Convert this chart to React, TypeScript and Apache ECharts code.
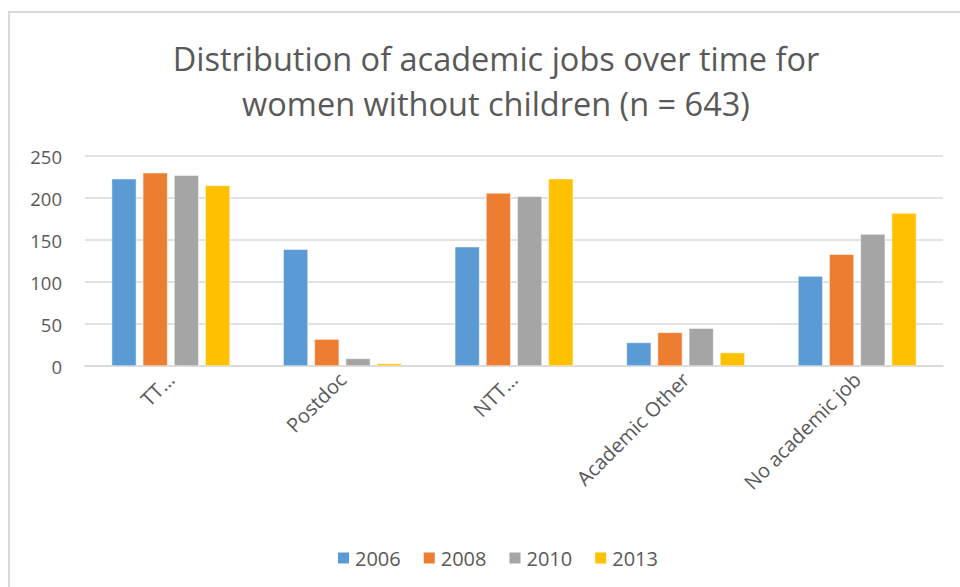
import React, { useEffect, useRef } from "react";
import * as echarts from "echarts";

const categories = ["TT…", "Postdoc", "NTT…", "Academic Other", "No academic job"];
const years = ["2006", "2008", "2010", "2013"];
const values2006 = [223, 139, 142, 28, 107];
const values2008 = [230, 32, 206, 40, 133];
const values2010 = [227, 9, 202, 45, 157];
const values2013 = [215, 3, 223, 16, 182];
const colors = ["#5b9bd5", "#ed7d31", "#a5a5a5", "#ffc000"];
const yTicks = { min: 0, max: 250, interval: 50 };

const FONT = "'Open Sans', sans-serif";

export default function App() {
  const ref = useRef<HTMLDivElement>(null);
  useEffect(() => {
    if (!ref.current) return;
    const chart = echarts.init(ref.current, undefined, { renderer: "svg" });
    const seriesData = [values2006, values2008, values2010, values2013];
    chart.setOption({
      animation: false,
      backgroundColor: "#ffffff",
      title: {
        text: "Distribution of academic jobs over time for\nwomen without children (n = 643)",
        left: 491,
        textAlign: "center",
        top: 31,
        textStyle: {
          fontFamily: FONT,
          fontWeight: "normal",
          fontSize: 32.5,
          color: "#595959",
          lineHeight: 45,
        },
      },
      graphic: [
        {
          type: "rect",
          shape: { x: 9, y: 12, width: 1000, height: 1000 },
          style: { fill: "none", stroke: "#d9d9d9", lineWidth: 2 },
          silent: true,
        },
      ],
      legend: {
        data: years,
        left: 331,
        top: 543,
        itemWidth: 13,
        itemHeight: 13,
        itemGap: 21,
        icon: "rect",
        textStyle: { fontFamily: FONT, fontSize: 20, color: "#595959" },
      },
      grid: { left: 85, right: 17, top: 156, bottom: 221, containLabel: false },
      xAxis: {
        type: "category",
        data: categories,
        axisLine: { show: true, lineStyle: { color: "#d9d9d9", width: 1.5 } },
        axisTick: { show: false },
        axisLabel: {
          rotate: 45,
          interval: 0,
          margin: 10,
          fontFamily: FONT,
          fontSize: 20,
          color: "#595959",
        },
      },
      yAxis: {
        type: "value",
        min: yTicks.min,
        max: yTicks.max,
        interval: yTicks.interval,
        axisLine: { show: false },
        axisTick: { show: false },
        splitLine: { lineStyle: { color: "#d9d9d9", width: 1.5 } },
        axisLabel: { fontFamily: FONT, fontSize: 18.5, color: "#595959", margin: 23 },
      },
      series: years.map((y, i) => ({
        name: y,
        type: "bar",
        data: seriesData[i],
        barGap: "26%",
        barCategoryGap: "31%",
        itemStyle: { color: colors[i], borderColor: "#ffffff", borderWidth: 0.5 },
      })),
    });
    return () => chart.dispose();
  }, []);
  return (
    <div
      ref={ref}
      style={{ position: "fixed", left: 0, top: 0, width: 960, height: 587 }}
    />
  );
}
